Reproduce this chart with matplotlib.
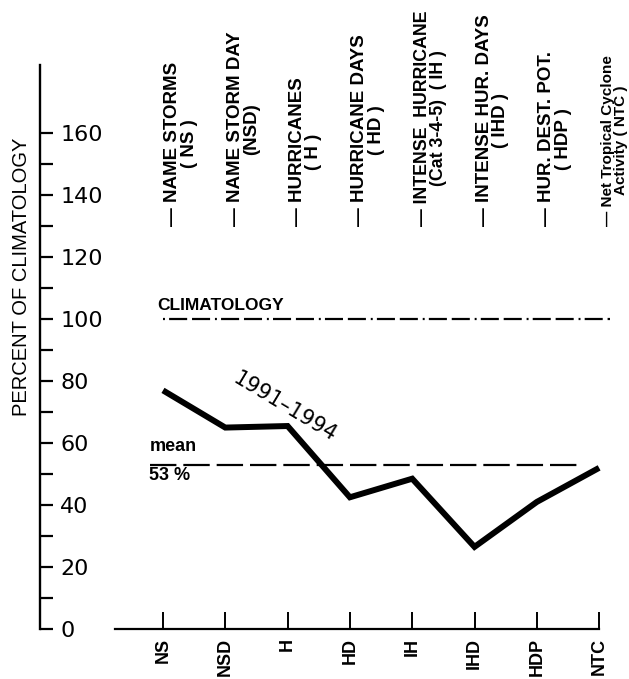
import matplotlib
matplotlib.use('Agg')
import matplotlib.pyplot as plt
import numpy as np

plt.rcParams['lines.scale_dashes'] = False

# ---- data ----
categories = ['NS', 'NSD', 'H', 'HD', 'IH', 'IHD', 'HDP', 'NTC']
descriptions = ['— NAME STORMS\n( NS )',
                '— NAME STORM DAY\n(NSD)',
                '— HURRICANES\n( H )',
                '— HURRICANE DAYS\n( HD )',
                '— INTENSE  HURRICANE\n(Cat 3-4-5)  ( IH )',
                '— INTENSE HUR. DAYS\n( IHD )',
                '— HUR. DEST. POT.\n( HDP )',
                '— Net Tropical Cyclone\nActivity ( NTC )']
values_1991_1994 = [77, 65, 65.5, 42.5, 48.5, 26.5, 41, 52]
climatology_value = 100
mean_value = 53
major_yticks = [0, 20, 40, 60, 80, 100, 120, 140, 160]
minor_yticks = [10, 30, 50, 70, 90, 110, 130, 150]

# ---- figure ----
W, H = 629, 679
fig = plt.figure(figsize=(W / 100, H / 100), dpi=100)
ax = fig.add_axes([40 / W, 50 / H, (615 - 40) / W, (629 - 65) / H])

idx = np.arange(len(categories))
ax.set_xlim(-1.974, 7.255)
ax.set_ylim(0, 182)

for s in ['top', 'right']:
    ax.spines[s].set_visible(False)
ax.spines['left'].set_linewidth(1.7)
ax.spines['bottom'].set_linewidth(1.6)
ax.spines['bottom'].set_bounds(-0.77, idx[-1])

# y axis ticks (pointing inward, labels inside)
ax.set_yticks(major_yticks)
ax.set_yticks(minor_yticks, minor=True)
ax.tick_params(axis='y', which='both', direction='in', length=9.5, width=1.6,
               pad=-14.5, labelsize=16)
for t in ax.get_yticklabels():
    t.set_horizontalalignment('left')
    t.set_family('DejaVu Sans')

# x axis ticks
ax.set_xticks(idx)
ax.set_xticklabels(categories, rotation=90, fontsize=13, fontweight='bold',
                   family='Liberation Sans')
ax.tick_params(axis='x', direction='in', length=12, width=1.4, pad=6.5)

# y label
ax.set_ylabel('PERCENT OF CLIMATOLOGY', fontsize=14.5, family='Liberation Sans')
ax.yaxis.set_label_coords(-0.016, 0.625)

# lines
ax.plot(idx, values_1991_1994, color='black', lw=4.3,
        solid_joinstyle='miter', solid_capstyle='butt', zorder=3)
ax.plot([idx[0], idx[-1] + 0.17], [climatology_value] * 2, color='black',
        lw=1.6, dashes=(1.4, 3, 13, 3.5, 13, 3.5))
ax.plot([-0.21, 6.73], [mean_value] * 2, color='black', lw=1.6,
        dashes=(19, 5))

# annotations
ax.text(-0.1, 104.5, 'CLIMATOLOGY', fontsize=12.5, fontweight='bold',
        family='Liberation Sans', ha='left', va='center')
ax.text(-0.21, 56, 'mean', fontsize=13, fontweight='bold',
        family='Liberation Sans', ha='left', va='bottom')
ax.text(-0.23, 49.5, f'{mean_value} %', fontsize=13, fontweight='bold',
        family='Liberation Sans', ha='left', va='center')
ax.text(1.96, 71.6, '1991–1994', fontsize=15, rotation=-31,
        family='DejaVu Sans', ha='center', va='center')

# category descriptions above the plot
for i, d in zip(idx, descriptions):
    last = i == idx[-1]
    fs = 11 if last else (12.8 if i == 4 else 13.5)
    ls = 0.9 if last else 0.95
    dx = 0.24 if last else 0.29
    ax.text(i + dx, 130, d, rotation=90, ha='center', va='bottom',
            fontsize=fs, fontweight='bold', family='Liberation Sans',
            multialignment='center', linespacing=ls)

fig.savefig('out.png', dpi=100)
